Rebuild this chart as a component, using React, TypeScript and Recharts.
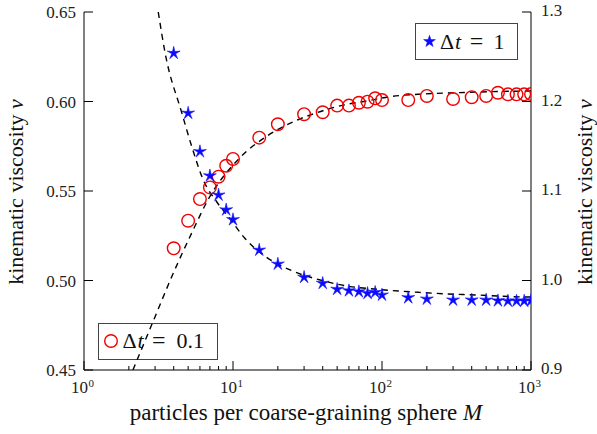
import React from 'react';
import { ComposedChart, Scatter, Line, XAxis, YAxis, Customized } from 'recharts';

// Particles per coarse-graining sphere M (shared by both runs)
const particleCounts = [4, 5, 6, 7, 8, 9, 10, 15, 20, 30, 40, 50, 60, 70, 80, 90, 100, 150, 200, 300, 400, 500, 600, 700, 800, 900, 1000];

// Kinematic viscosity for Δt = 0.1 (left axis)
const viscosityDt01 = [0.518, 0.5334, 0.5455, 0.552, 0.558, 0.5641, 0.5679, 0.5798, 0.5873, 0.5929, 0.594, 0.5977, 0.5977, 0.5993, 0.5999, 0.6018, 0.6008, 0.6008, 0.6031, 0.6014, 0.6024, 0.6031, 0.6049, 0.604, 0.604, 0.604, 0.6042];

// Kinematic viscosity for Δt = 1 (right axis)
const viscosityDt1 = [1.254, 1.187, 1.144, 1.117, 1.0955, 1.079, 1.068, 1.034, 1.0184, 1.0036, 0.9969, 0.9902, 0.9886, 0.9875, 0.9857, 0.9868, 0.9838, 0.9808, 0.9793, 0.9782, 0.9782, 0.9782, 0.9774, 0.9771, 0.9771, 0.9771, 0.9774];

// Fitted curve for Δt = 0.1
const fitDt01M = [2.13, 3.0, 3.88, 5.28, 6.79, 11.1, 16.8, 25.4, 35.5, 55, 79, 113, 189, 316, 550, 1000];
const fitDt01Nu = [0.45, 0.4798, 0.5021, 0.5265, 0.545, 0.5685, 0.5805, 0.5887, 0.5934, 0.598, 0.6003, 0.6027, 0.6042, 0.6049, 0.6055, 0.6059];

// Fitted curve for Δt = 1
const fitDt1M = [3.15, 3.5, 4.53, 5.28, 6.32, 7.77, 9.55, 12.0, 16.0, 24.8, 38.4, 58, 92, 175, 272, 432, 760, 1000];
const fitDt1Nu = [1.3, 1.2545, 1.1875, 1.15, 1.1123, 1.088, 1.069, 1.0472, 1.0285, 1.011, 1.0006, 0.9939, 0.9902, 0.9868, 0.985, 0.9838, 0.9819, 0.9815];

// Axis ticks
const xTicks = [1, 2, 3, 4, 5, 6, 7, 8, 9, 10, 20, 30, 40, 50, 60, 70, 80, 90, 100, 200, 300, 400, 500, 600, 700, 800, 900, 1000];
const xDecadeTicks = [1, 10, 100, 1000];
const xDecadeExponents = ['0', '1', '2', '3'];
const leftTicks = [0.45, 0.5, 0.55, 0.6, 0.65];
const leftTickLabels = ['0.45', '0.50', '0.55', '0.60', '0.65'];
const rightTicks = [0.9, 1.0, 1.1, 1.2, 1.3];
const rightTickLabels = ['0.9', '1.0', '1.1', '1.2', '1.3'];

const seriesDt01 = particleCounts.map((M, i) => ({ M, nu: viscosityDt01[i] }));
const seriesDt1 = particleCounts.map((M, i) => ({ M, nu: viscosityDt1[i] }));
const curveDt01 = fitDt01M.map((M, i) => ({ M, nu: fitDt01Nu[i] }));
const curveDt1 = fitDt1M.map((M, i) => ({ M, nu: fitDt1Nu[i] }));

const FONT = '"Liberation Serif", "DejaVu Serif", serif';
const RED = '#f00000';
const BLUE = '#0a0aff';
const MAJOR = 9;
const MINOR = 4;

const starPath = (cx: number, cy: number, R: number, r: number) => {
  let d = '';
  for (let k = 0; k < 10; k++) {
    const rad = k % 2 === 0 ? R : r;
    const a = -Math.PI / 2 + (k * Math.PI) / 5;
    d += (k === 0 ? 'M' : 'L') + (cx + rad * Math.cos(a)).toFixed(2) + ',' + (cy + rad * Math.sin(a)).toFixed(2);
  }
  return d + 'Z';
};

const StarMarker = (props: any) => {
  const { cx, cy } = props;
  if (cx == null || cy == null) return null;
  return <path d={starPath(cx, cy, 6.8, 2.0)} fill={BLUE} stroke={BLUE} strokeWidth={0.6} strokeLinejoin="round" />;
};

const CircleMarker = (props: any) => {
  const { cx, cy } = props;
  if (cx == null || cy == null) return null;
  return <circle cx={cx} cy={cy} r={6.3} fill="none" stroke={RED} strokeWidth={1.4} />;
};

// Decade labels are drawn as base "10" plus a separate raised exponent
const BottomTick = (props: any) => {
  const { x, y, payload } = props;
  const idx = xDecadeTicks.indexOf(payload.value);
  const major = idx >= 0;
  return (
    <g>
      <line x1={x} x2={x} y1={y} y2={y - (major ? MAJOR : MINOR)} stroke="#000" strokeWidth={1} />
      {major && (
        <g fontFamily={FONT} fill="#222">
          <text x={x + 4} y={y + 23} textAnchor="end" fontSize={17}>10</text>
          <text x={x + 4.5} y={y + 17} textAnchor="start" fontSize={11}>{xDecadeExponents[idx]}</text>
        </g>
      )}
    </g>
  );
};

const TopTick = (props: any) => {
  const { x, y, payload } = props;
  const major = xDecadeTicks.indexOf(payload.value) >= 0;
  return <line x1={x} x2={x} y1={y} y2={y + (major ? MAJOR : MINOR)} stroke="#000" strokeWidth={1} />;
};

const LeftTick = (props: any) => {
  const { x, y, payload } = props;
  const idx = leftTicks.indexOf(payload.value);
  return (
    <g>
      <line x1={x} x2={x + MAJOR} y1={y} y2={y} stroke="#000" strokeWidth={1} />
      <text x={x - 8} y={y + 6} textAnchor="end" fontFamily={FONT} fontSize={17} fill="#222">
        {leftTickLabels[idx]}
      </text>
    </g>
  );
};

const RightTick = (props: any) => {
  const { x, y, payload } = props;
  const idx = rightTicks.findIndex((t) => Math.abs(t - payload.value) < 1e-9);
  return (
    <g>
      <line x1={x} x2={x - MAJOR} y1={y} y2={y} stroke="#000" strokeWidth={1} />
      <text x={x + 10} y={y + 4} textAnchor="start" fontFamily={FONT} fontSize={17} fill="#222">
        {rightTickLabels[idx]}
      </text>
    </g>
  );
};

const LegendBoxes = () => (
  <g fontFamily={FONT} fill="#111">
    <rect x={415.5} y={23.5} width={102} height={36} fill="#fff" stroke="#444" strokeWidth={1} />
    <path d={starPath(429.5, 41.5, 6.2, 2.4)} fill={BLUE} stroke={BLUE} strokeWidth={0.5} />
    <text x={440} y={48.5} fontSize={22}>Δ</text>
    <text x={455} y={48.5} fontSize={22} fontStyle="italic">t</text>
    <text x={476.5} y={48.5} fontSize={24} textAnchor="middle">=</text>
    <text x={499} y={48.5} fontSize={22} textAnchor="middle">1</text>

    <rect x={98.5} y={323.5} width={119} height={36} fill="#fff" stroke="#444" strokeWidth={1} />
    <circle cx={111} cy={341} r={6.3} fill="none" stroke={RED} strokeWidth={1.4} />
    <text x={122.5} y={347.5} fontSize={22}>Δ</text>
    <text x={137.5} y={347.5} fontSize={22} fontStyle="italic">t</text>
    <text x={158.7} y={347.5} fontSize={24} textAnchor="middle">=</text>
    <text x={190.3} y={347.5} fontSize={22} textAnchor="middle">0.1</text>
  </g>
);

const AxisTitles = () => (
  <g fontFamily={FONT} fill="#111">
    <text x={306} y={420} textAnchor="middle" fontSize={23}>
      particles per coarse-graining sphere <tspan fontStyle="italic">M</tspan>
    </text>
    <text x={23} y={192} textAnchor="middle" fontSize={22} transform="rotate(-90 23 192)">
      kinematic viscosity <tspan fontStyle="italic">ν</tspan>
    </text>
    <text x={592} y={192} textAnchor="middle" fontSize={22} transform="rotate(-90 592 192)">
      kinematic viscosity <tspan fontStyle="italic">ν</tspan>
    </text>
  </g>
);

export default function App() {
  return (
    <div style={{ position: 'absolute', left: 0, top: 0, width: 597, height: 434, background: '#fff' }}>
      <ComposedChart width={597} height={434} margin={{ top: 12, right: 0, bottom: 0, left: 0 }}>
        <XAxis
          dataKey="M"
          type="number"
          scale="log"
          domain={[1, 1000]}
          allowDataOverflow
          ticks={xTicks}
          interval={0}
          height={64}
          tickSize={0}
          tickMargin={0}
          tickLine={false}
          axisLine={{ stroke: '#000', strokeWidth: 1 }}
          tick={<BottomTick />}
        />
        <XAxis
          xAxisId="top"
          orientation="top"
          dataKey="M"
          type="number"
          scale="log"
          domain={[1, 1000]}
          allowDataOverflow
          ticks={xTicks}
          interval={0}
          height={0}
          tickSize={0}
          tickMargin={0}
          tickLine={false}
          axisLine={{ stroke: '#000', strokeWidth: 1 }}
          tick={<TopTick />}
        />
        <YAxis
          yAxisId="left"
          dataKey="nu"
          type="number"
          domain={[0.45, 0.65]}
          allowDataOverflow
          ticks={leftTicks}
          interval={0}
          width={84}
          tickSize={0}
          tickMargin={0}
          tickLine={false}
          axisLine={{ stroke: '#000', strokeWidth: 1 }}
          tick={<LeftTick />}
        />
        <YAxis
          yAxisId="right"
          orientation="right"
          dataKey="nu"
          type="number"
          domain={[0.9, 1.3]}
          allowDataOverflow
          ticks={rightTicks}
          interval={0}
          width={66}
          tickSize={0}
          tickMargin={0}
          tickLine={false}
          axisLine={{ stroke: '#000', strokeWidth: 1 }}
          tick={<RightTick />}
        />
        <Line
          yAxisId="left"
          data={curveDt01}
          dataKey="nu"
          type="monotone"
          stroke="#000"
          strokeWidth={1.4}
          strokeDasharray="6 5"
          dot={false}
          activeDot={false}
          isAnimationActive={false}
        />
        <Line
          yAxisId="right"
          data={curveDt1}
          dataKey="nu"
          type="monotone"
          stroke="#000"
          strokeWidth={1.4}
          strokeDasharray="6 5"
          dot={false}
          activeDot={false}
          isAnimationActive={false}
        />
        <Scatter yAxisId="left" data={seriesDt01} dataKey="nu" shape={<CircleMarker />} isAnimationActive={false} />
        <Scatter yAxisId="right" data={seriesDt1} dataKey="nu" shape={<StarMarker />} isAnimationActive={false} />
        <Customized component={LegendBoxes} />
        <Customized component={AxisTitles} />
      </ComposedChart>
    </div>
  );
}
